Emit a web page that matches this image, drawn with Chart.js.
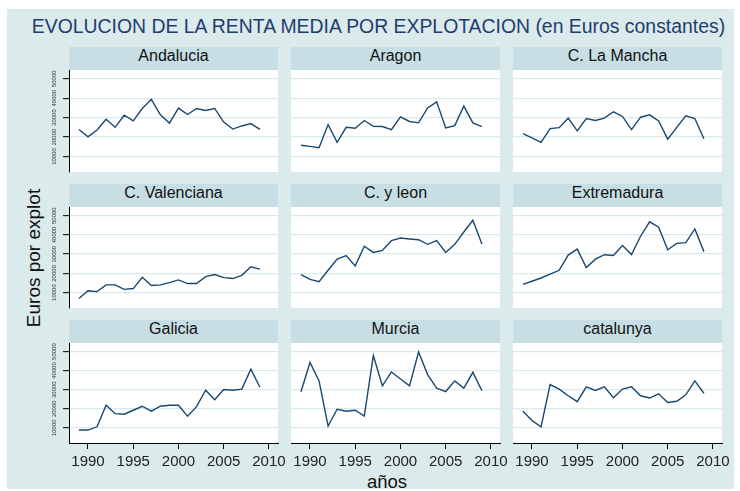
<!DOCTYPE html>
<html>
<head>
<meta charset="utf-8">
<script src="https://cdn.jsdelivr.net/npm/chart.js@4.4.0/dist/chart.umd.min.js"></script>
<style>
  body { margin: 0; width: 740px; height: 491px; overflow: hidden; position: relative; background: #fff;
         font-family: "Liberation Sans", Arial, sans-serif; }
  #bg { position: absolute; left: 7px; top: 9px; width: 727px; height: 480px; background: #dbeaeb; }
  #title { position: absolute; top: 17px; left: 0; width: 757px; text-align: center; font-size: 19.4px;
           line-height: 1; color: #1f3d6e; white-space: nowrap; }
  #ylab { position: absolute; left: 33px; top: 258px; font-size: 19px; line-height: 1; color: #111;
          white-space: nowrap; transform: translate(-50%, -50%) rotate(-90deg); }
  #xlab { position: absolute; left: 387px; top: 473px; font-size: 18.5px; line-height: 1; color: #111;
          transform: translateX(-50%); }
  .hdr { position: absolute; background: #c7dfe4; text-align: center; font-size: 16px; line-height: 18px;
         color: #111; height: 23px; }
  .plot { position: absolute; background: #fff; }
  canvas { position: absolute; }
</style>
</head>
<body>
<div id="bg"></div>
<div id="title">EVOLUCION DE LA RENTA MEDIA POR EXPLOTACION (en Euros constantes)</div>
<div id="ylab">Euros por explot</div>
<div id="xlab">años</div>
<script>
// ---- Data ------------------------------------------------------------------
const years = [1989, 1990, 1991, 1992, 1993, 1994, 1995, 1996, 1997, 1998, 1999,
               2000, 2001, 2002, 2003, 2004, 2005, 2006, 2007, 2008, 2009];
const regions = ["Andalucia", "Aragon", "C. La Mancha", "C. Valenciana", "C. y leon",
                 "Extremadura", "Galicia", "Murcia", "catalunya"];

const andalucia   = [23900, 20100, 23600, 29100, 25000, 31200, 28300, 34700, 39400, 31400, 27200,
                     34900, 31600, 34700, 33700, 34700, 27700, 24100, 25700, 26900, 23900];
const aragon      = [15800, 15200, 14500, 26400, 17300, 25000, 24500, 28500, 25500, 25400, 23800,
                     30400, 28000, 27300, 35000, 38100, 24700, 25900, 35900, 27300, 25400];
const laMancha    = [21700, 19600, 17300, 24300, 24800, 29700, 23200, 29500, 28500, 29700, 33000,
                     30600, 23800, 30200, 31400, 28300, 18900, 25000, 30900, 29500, 19100];
const valenciana  = [6900, 11000, 10500, 14000, 14000, 11700, 12100, 18000, 13700, 14000, 15200,
                     16600, 14700, 14700, 18300, 19400, 17800, 17300, 19000, 23400, 22200];
const castillaLeon = [19400, 16900, 15700, 21600, 27400, 29300, 23900, 34100, 30900, 31900, 37000,
                      38400, 37900, 37500, 35100, 37000, 30900, 35100, 41500, 47600, 35300];
const extremadura = [14300, 15900, 17600, 19600, 21600, 29500, 32600, 23000, 27400, 29700, 29300,
                     34500, 29800, 39300, 46800, 44000, 32300, 35600, 36000, 43100, 31300];
const galicia     = [8800, 8800, 10500, 21800, 17400, 17100, 19200, 21300, 18700, 21300, 21800,
                     21800, 16100, 21100, 29700, 24700, 30100, 29700, 30300, 40800, 31300];
const murcia      = [28900, 44300, 34600, 10900, 19700, 18700, 19200, 16100, 47900, 32000, 39300,
                     35600, 32000, 49800, 37900, 30800, 29000, 34600, 30800, 39100, 29400];
const catalunya   = [18700, 13800, 10500, 32700, 30300, 26800, 23700, 31500, 29600, 31500, 25800,
                     30300, 31500, 26800, 25600, 27800, 23300, 23900, 27300, 34600, 28100];

const series = [andalucia, aragon, laMancha, valenciana, castillaLeon,
                extremadura, galicia, murcia, catalunya];

const xTicks = [1990, 1995, 2000, 2005, 2010];
const yTicks = [10000, 20000, 30000, 40000, 50000];

// ---- Layout ----------------------------------------------------------------
const colX = [69, 291, 513];
const plotW = 209;
const rowTop = [70, 207, 343];
const rowBot = [172, 308, 443];
const LINE = "#1a476f";
const GRID = "#d9e9ec";

const el = (cls, l, t, w, h, txt) => {
  const d = document.createElement("div");
  d.className = cls;
  Object.assign(d.style, { left: l + "px", top: t + "px", width: w + "px", height: h + "px" });
  if (txt) d.textContent = txt;
  document.body.appendChild(d);
  return d;
};

regions.forEach((name, i) => {
  const r = Math.floor(i / 3), c = i % 3;
  const showY = c === 0, showX = r === 2;
  const x0 = colX[c], y0 = rowTop[r], h = rowBot[r] - rowTop[r];

  el("plot", x0, y0, plotW, h);
  el("hdr", x0, y0 - 23, plotW, 23, name);

  const cv = document.createElement("canvas");
  const cw = plotW + 30 + 22, ch = h + 4 + 40;
  cv.width = cw; cv.height = ch;
  Object.assign(cv.style, { left: (x0 - 30) + "px", top: (y0 - 4) + "px", width: cw + "px", height: ch + "px" });
  document.body.appendChild(cv);

  new Chart(cv.getContext("2d"), {
    type: "line",
    data: {
      datasets: [{
        data: years.map((yr, k) => ({ x: yr, y: series[i][k] })),
        borderColor: LINE,
        borderWidth: 1.4,
        pointRadius: 0,
        tension: 0,
        fill: false
      }]
    },
    options: {
      responsive: false,
      animation: false,
      devicePixelRatio: 1,
      layout: { padding: { left: showY ? 0 : 30, top: 4, right: 22, bottom: showX ? 10 : 40 } },
      plugins: { legend: { display: false }, tooltip: { enabled: false } },
      scales: {
        x: {
          type: "linear",
          display: showX,
          min: 1987.9,
          max: 2011.0,
          afterBuildTicks: (s) => { s.ticks = xTicks.map(v => ({ value: v })); },
          afterFit: (s) => { if (showX) s.height = 30; s.paddingLeft = 0; s.paddingRight = 0; },
          grid: { drawOnChartArea: false, drawTicks: true, tickLength: 6, tickColor: "#000", color: "#000" },
          border: { display: true, color: "#000", width: 1 },
          ticks: {
            autoSkip: false, maxRotation: 0, padding: 4, color: "#222",
            font: { family: "Liberation Sans", size: 15 },
            callback: (v) => String(v)
          }
        },
        y: {
          min: 2000,
          max: 54500,
          afterBuildTicks: (s) => { s.ticks = yTicks.map(v => ({ value: v })); },
          afterFit: (s) => { s.width = showY ? 30 : 0; s.paddingTop = 0; s.paddingBottom = 0; },
          grid: {
            color: GRID, lineWidth: 1.3,
            drawTicks: showY, tickLength: 6, tickColor: "#000", tickWidth: 1
          },
          border: { display: showY, color: "#000", width: 1 },
          ticks: {
            display: showY, minRotation: 90, maxRotation: 90, crossAlign: "center", padding: 0,
            color: "#333", font: { family: "Liberation Sans", size: 6 },
            callback: (v) => String(v)
          }
        }
      }
    }
  });
});
</script>
</body>
</html>
